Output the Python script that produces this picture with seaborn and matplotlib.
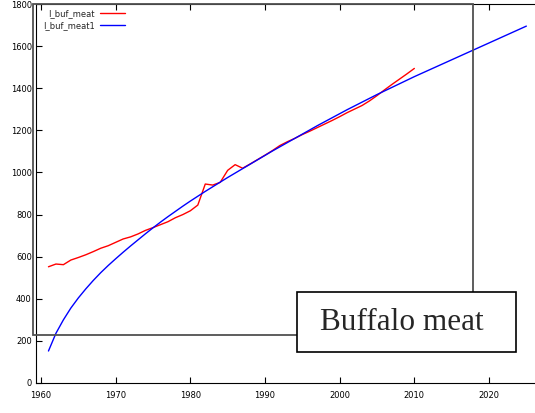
import matplotlib
matplotlib.use("Agg")
import matplotlib.pyplot as plt
import seaborn as sns
import pandas as pd
from matplotlib.patches import Rectangle

# ---------------- data ----------------
years_meat = list(range(1961, 2011))
meat = [552, 565, 562, 584, 596, 609, 624, 640, 652, 668,
        684, 694, 708, 725, 738, 752, 766, 785, 800, 818,
        845, 945, 940, 953, 1010, 1037, 1020, 1040, 1061, 1082,
        1104, 1128, 1146, 1162, 1180, 1196, 1213, 1230, 1247, 1265,
        1284, 1301, 1318, 1340, 1365, 1392, 1418, 1443, 1468, 1494]

years_fit = list(range(1961, 2026))
meat_fit = [152, 236, 300, 356, 404, 447, 487, 524, 558, 590,
            621, 651, 680, 709, 737, 764, 790, 815, 840, 864,
            887, 910, 932, 954, 976, 997, 1018, 1039, 1060, 1081,
            1102, 1122, 1142, 1162, 1182, 1202, 1222, 1241, 1260, 1279,
            1298, 1316, 1334, 1352, 1370, 1387, 1404, 1421, 1438, 1455,
            1471, 1487, 1503, 1519, 1535, 1551, 1567, 1583, 1599, 1615,
            1631, 1647, 1663, 1679, 1695]

series_names = ["I_buf_meat", "I_buf_meat1"]
series_colors = ["#ff0000", "#0000ff"]
x_ticks = [1960, 1970, 1980, 1990, 2000, 2010, 2020]
y_ticks = [0, 200, 400, 600, 800, 1000, 1200, 1400, 1600, 1800]
title_text = "Buffalo meat"

df = pd.concat([
    pd.DataFrame({"year": years_meat, "value": meat, "series": series_names[0]}),
    pd.DataFrame({"year": years_fit, "value": meat_fit, "series": series_names[1]}),
], ignore_index=True)

# ---------------- figure ----------------
sns.set_theme(style="ticks")
plt.rcParams["font.family"] = ["DejaVu Sans"]

W, H = 535, 413
fig = plt.figure(figsize=(W / 100, H / 100), dpi=100)

def fx(px):
    return px / W

def fy(py):
    return 1 - py / H

ax_left, ax_right, ax_top, ax_bottom = 36, 535, 4, 383
ax = fig.add_axes([fx(ax_left), fy(ax_bottom), fx(ax_right - ax_left), (ax_bottom - ax_top) / H])

sns.lineplot(data=df, x="year", y="value", hue="series",
             palette=dict(zip(series_names, series_colors)),
             linewidth=1.0, ax=ax, sort=True)

px_per_year = 7.467
ax.set_xlim(1960 - (41 - ax_left) / px_per_year, 1960 + (ax_right - 41) / px_per_year)
ax.set_ylim(0, 1800)
ax.set_xticks(x_ticks)
ax.set_yticks(y_ticks)
ax.set_xlabel("")
ax.set_ylabel("")
ax.tick_params(axis="both", direction="in", length=4, width=0.8, labelsize=6,
               colors="black", top=True, right=False)
ax.tick_params(axis="x", pad=6)
ax.tick_params(axis="y", pad=3)
for side in ["left", "bottom", "top"]:
    ax.spines[side].set_color("black")
    ax.spines[side].set_linewidth(0.8)
ax.spines["right"].set_visible(False)

handles, labels = ax.get_legend_handles_labels()
leg = ax.legend(handles, labels, markerfirst=False, frameon=False, fontsize=6,
                handlelength=3.0, handletextpad=0.6, labelspacing=0.35,
                borderpad=0, borderaxespad=0,
                loc="upper left", bbox_to_anchor=(fx(43), fy(9)),
                bbox_transform=fig.transFigure)

# gray frame
fig.add_artist(Rectangle((fx(33), fy(335)), fx(473 - 33), (335 - 4) / H,
                         transform=fig.transFigure, fill=False,
                         edgecolor="#505050", linewidth=1.3, zorder=5))
# title box
fig.add_artist(Rectangle((fx(297), fy(352)), fx(516 - 297), (352 - 292) / H,
                         transform=fig.transFigure, facecolor="white",
                         edgecolor="black", linewidth=1.2, zorder=6))
fig.text(fx(402), fy(323), title_text, ha="center", va="center",
         fontsize=22.5, family=["Liberation Serif", "DejaVu Serif"], zorder=7)

fig.savefig("out.png", dpi=100)
